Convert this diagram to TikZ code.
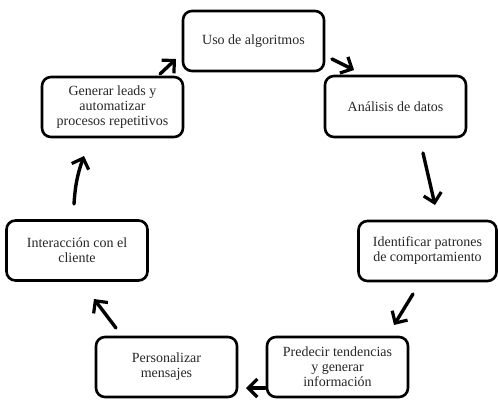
\documentclass[tikz,border=0pt]{standalone}
\usepackage{fontspec}
\setmainfont{Liberation Serif}
\usetikzlibrary{arrows.meta}
\tikzset{
  box/.style={draw=black, line width=2.6pt, rounded corners=9pt, minimum width=141pt, minimum height=60pt, align=center, font=\fontsize{14}{15}\selectfont, text=black!85, inner sep=2pt},
  flow/.style={line width=3.4pt, line cap=round, -{Straight Barb[length=9pt,width=18pt,line width=3.2pt]}}
}
\begin{document}
\begin{tikzpicture}[x=1pt,y=-1pt]
\useasboundingbox (0,0) rectangle (498,399);
\node[box] (uso) at (253.5,41) {Uso de algoritmos};
\node[box, minimum height=61pt] (ana) at (395.5,106.5) {Análisis de datos};
\node[box, minimum width=138pt] (ide) at (427.5,251) {Identificar patrones\\de comportamiento};
\node[box] (pre) at (337.5,367) {Predecir tendencias\\y generar\\información};
\node[box] (per) at (166.5,367) {Personalizar\\mensajes};
\node[box] (int) at (77,250.5) {Interacción con el\\cliente};
\node[box] (gen) at (112.5,107) {Generar leads y\\automatizar\\procesos repetitivos};
\coordinate (a1s) at (160,74); \coordinate (a1e) at (176,59);
\coordinate (a2s) at (332,59); \coordinate (a2e) at (354,70);
\coordinate (a3s) at (423,153); \coordinate (a3e) at (435,205);
\coordinate (a4s) at (413,294); \coordinate (a4e) at (394,325);
\coordinate (a5s) at (265,388); \coordinate (a5e) at (246,388);
\coordinate (a6s) at (116,328); \coordinate (a6e) at (94,299);
\coordinate (a7s) at (74,204); \coordinate (a7e) at (84,156);
\draw[flow] (a1s) -- (a1e);
\draw[flow] (a2s) -- (a2e);
\draw[flow] (a3s) -- (a3e);
\draw[flow] (a4s) -- (a4e);
\draw[flow] (a5s) -- (a5e);
\draw[flow] (a6s) -- (a6e);
\draw[flow] (a7s) to[bend left=8] (a7e);
\end{tikzpicture}
\end{document}
